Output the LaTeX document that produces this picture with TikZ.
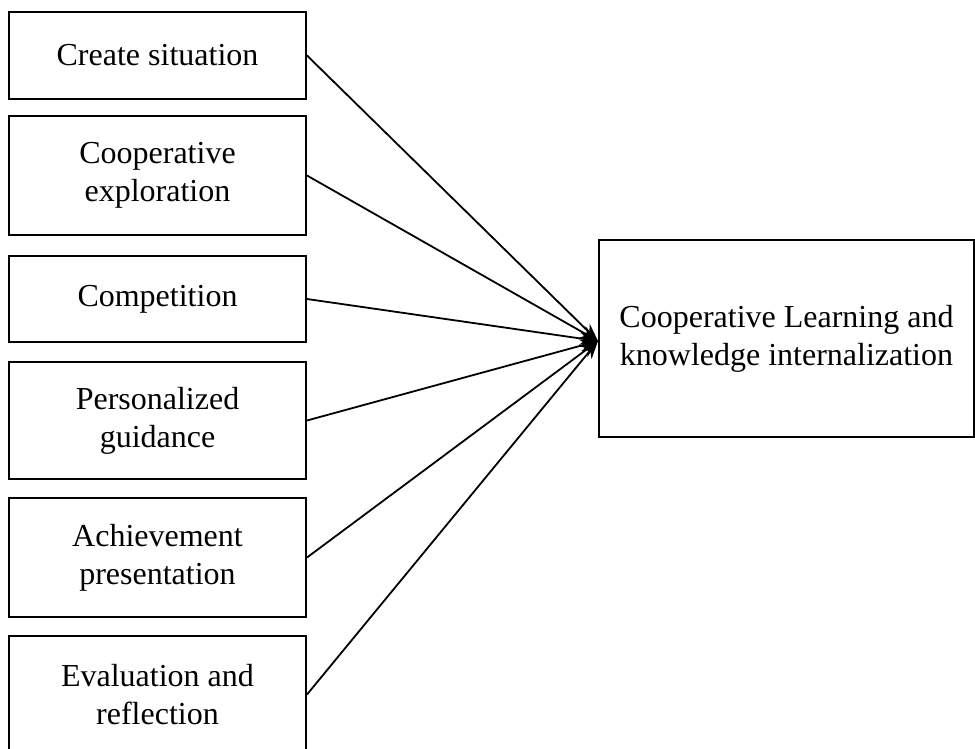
\documentclass[tikz,border=0pt]{standalone}
\usepackage{fontspec}
\setmainfont{Liberation Serif}
\usetikzlibrary{arrows.meta}
\begin{document}
\begin{tikzpicture}[x=1pt,y=-1pt,
  stage/.style={draw, line width=2pt, minimum width=297pt, inner sep=0pt,
    align=center, font=\fontsize{32}{38}\selectfont},
  goalbox/.style={draw, line width=2pt, minimum width=375pt, minimum height=197pt,
    inner sep=0pt, align=center, font=\fontsize{32}{38}\selectfont},
  link/.style={line width=1.8pt, -{Stealth[length=18pt,width=13pt]}}]
\useasboundingbox (0,0) rectangle (975,749);
\node[stage, minimum height=87pt]  (s1) at (157.5,55.5)  {Create situation};
\node[stage, minimum height=119pt] (s2) at (157.5,175.5) {Cooperative\\exploration};
\node[stage, minimum height=86pt]  (s3) at (157.5,299)   {Competition};
\node[stage, minimum height=117pt] (s4) at (157.5,420.5) {Personalized\\guidance};
\node[stage, minimum height=119pt] (s5) at (157.5,557.5) {Achievement\\presentation};
\node[stage, minimum height=117pt] (s6) at (157.5,694.5) {Evaluation and\\reflection};
\node[goalbox] (goal) at (786.5,338.5) {Cooperative Learning and\\knowledge internalization};
\coordinate (hub) at (598,341);
\foreach \s in {s1,s2,s3,s4,s5,s6}
  \draw[link] (\s.east) -- (hub);
\end{tikzpicture}
\end{document}
